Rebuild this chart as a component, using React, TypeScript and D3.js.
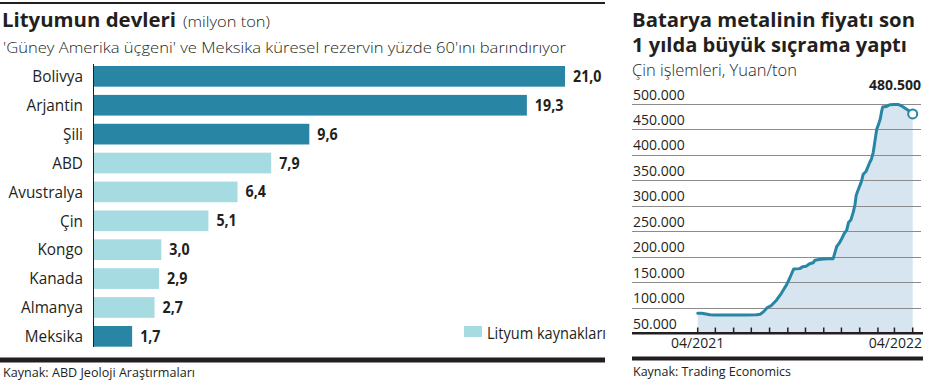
import React from "react";
import * as d3 from "d3";

const countries = ["Bolivya", "Arjantin", "Şili", "ABD", "Avustralya", "Çin", "Kongo", "Kanada", "Almanya", "Meksika"];
const reserves = [21.0, 19.3, 9.6, 7.9, 6.4, 5.1, 3.0, 2.9, 2.7, 1.7];
const triangle = [true, true, true, false, false, false, false, false, false, true];

const priceDates = [
  "2021-04-01", "2021-04-08", "2021-04-15", "2021-04-22", "2021-04-29", "2021-05-15", "2021-06-01", "2021-06-20",
  "2021-07-10", "2021-07-16", "2021-07-22", "2021-07-27", "2021-08-04", "2021-08-13", "2021-08-21", "2021-08-30",
  "2021-09-05", "2021-09-11", "2021-09-21", "2021-09-26", "2021-10-02", "2021-10-08", "2021-10-14", "2021-10-17",
  "2021-10-24", "2021-10-31", "2021-11-09", "2021-11-17", "2021-11-20", "2021-11-23", "2021-11-27", "2021-12-01",
  "2021-12-06", "2021-12-10", "2021-12-13", "2021-12-17", "2021-12-21", "2021-12-24", "2021-12-26", "2021-12-29",
  "2022-01-04", "2022-01-07", "2022-01-12", "2022-01-18", "2022-01-21", "2022-01-24", "2022-01-27", "2022-01-30",
  "2022-02-02", "2022-02-05", "2022-02-07", "2022-02-09", "2022-02-15", "2022-02-21", "2022-02-28", "2022-03-08",
  "2022-03-12", "2022-03-16", "2022-03-21", "2022-03-25", "2022-03-29", "2022-04-01",
];
const priceValues = [
  88900, 89000, 87500, 86000, 85500, 85500, 85500, 85600,
  85800, 87000, 92000, 98800, 104000, 115000, 128000, 145000,
  160000, 176000, 176500, 180000, 181000, 186000, 188000, 193000,
  194500, 195600, 195800, 196000, 208000, 220000, 226000, 234000,
  246000, 252000, 267000, 272000, 287000, 302000, 320000, 330000,
  348000, 362000, 368000, 385000, 392000, 405000, 428000, 451000,
  460000, 471000, 484000, 494000, 495000, 498600, 499000, 499000,
  497000, 494000, 490000, 487000, 482000, 480500,
];
const yTicks = [50000, 100000, 150000, 200000, 250000, 300000, 350000, 400000, 450000, 500000];
const lastLabel = "480.500";

const DARK = "#2886a4";
const LIGHT = "#a6dce1";
const TEXT = "#231f20";
const FONT = "'Open Sans', 'Noto Sans', sans-serif";

const fmtThousands = (v: number) => d3.format(",")(v).replace(/,/g, ".");
const fmtDec = (v: number) => v.toFixed(1).replace(".", ",");

export default function App() {
  // Left bar chart scales
  const x = d3.scaleLinear().domain([0, 21]).range([94, 565]);
  const y = d3.scaleBand<string>().domain(countries).range([61.9, 350.8]).paddingInner(0.284).paddingOuter(0.142);

  // Right line chart scales
  const parse = d3.timeParse("%Y-%m-%d");
  const dates = priceDates.map((d) => parse(d) as Date);
  const t0 = parse("2021-04-01") as Date;
  const t1 = parse("2022-04-01") as Date;
  const xt = d3.scaleTime().domain([t0, t1]).range([697.7, 912.7]);
  const yv = d3.scaleLinear().domain([50000, 500000]).range([333, 104]);
  const pts = dates.map((d, i) => [d, priceValues[i]] as [Date, number]);
  const line = d3.line<[Date, number]>().x((d) => xt(d[0])).y((d) => yv(d[1]));
  const area = d3.area<[Date, number]>().x((d) => xt(d[0])).y0(yv(50000)).y1((d) => yv(d[1]));
  const months = d3.timeMonth.range(t0, d3.timeDay.offset(t1, 1));
  const last = pts[pts.length - 1];

  return (
    <svg width={927} height={380} style={{ position: "absolute", left: 0, top: 0, background: "#fff" }} fontFamily={FONT}>
      {/* Left panel */}
      <rect x={0} y={2} width={605} height={2} fill={TEXT} />
      <text x={2} y={27} fontSize={20} fontWeight={700} fill={TEXT} textLength={174} lengthAdjust="spacingAndGlyphs">
        Lityumun devleri
      </text>
      <text x={183} y={27} fontSize={15} fontWeight={300} fill={TEXT} textLength={87} lengthAdjust="spacingAndGlyphs">
        (milyon ton)
      </text>
      <text x={3} y={53} fontSize={15} fontWeight={300} fill={TEXT} textLength={563} lengthAdjust="spacingAndGlyphs">
        'Güney Amerika üçgeni' ve Meksika küresel rezervin yüzde 60'ını barındırıyor
      </text>

      {countries.map((c, i) => {
        const yy = y(c) as number;
        const bw = y.bandwidth();
        return (
          <g key={c}>
            <rect x={x(0)} y={yy} width={x(reserves[i]) - x(0)} height={bw} fill={triangle[i] ? DARK : LIGHT} />
            <text
              transform={`translate(83,${yy + bw / 2 + 5.8}) scale(0.93,1)`}
              fontSize={16.5}
              textAnchor="end"
              fill={TEXT}
            >
              {c}
            </text>
            <text
              transform={`translate(${x(reserves[i]) + 8},${yy + bw / 2 + 5.5}) scale(0.92,1)`}
              fontSize={15.5}
              fontWeight={700}
              fill={TEXT}
            >
              {fmtDec(reserves[i])}
            </text>
          </g>
        );
      })}
      <line x1={93.5} x2={93.5} y1={64} y2={347} stroke={TEXT} strokeWidth={1} />

      <rect x={464} y={326} width={18} height={11} fill={LIGHT} />
      <text x={487} y={338.5} fontSize={15.5} fill={TEXT} textLength={119} lengthAdjust="spacingAndGlyphs">
        Lityum kaynakları
      </text>

      <rect x={0} y={357.5} width={605} height={5} fill={TEXT} />
      <text x={3} y={376.5} fontSize={13.5} fill={TEXT} textLength={192} lengthAdjust="spacingAndGlyphs">
        Kaynak: ABD Jeoloji Araştırmaları
      </text>

      {/* Right panel */}
      <text x={632} y={26.5} fontSize={20} fontWeight={700} fill={TEXT} textLength={283} lengthAdjust="spacingAndGlyphs">
        Batarya metalinin fiyatı son
      </text>
      <text x={632} y={51.5} fontSize={20} fontWeight={700} fill={TEXT} textLength={275} lengthAdjust="spacingAndGlyphs">
        1 yılda büyük sıçrama yaptı
      </text>
      <text x={632} y={76} fontSize={15.5} fontWeight={300} fill={TEXT} textLength={165} lengthAdjust="spacingAndGlyphs">
        Çin işlemleri, Yuan/ton
      </text>

      <path d={area(pts) as string} fill="#d6e5ef" />
      {yTicks.map((v) =>
        v === 50000 ? null : (
          <line key={"g" + v} x1={632} x2={921} y1={Math.round(yv(v)) + 0.5} y2={Math.round(yv(v)) + 0.5} stroke="#8c8c8c" strokeWidth={1} />
        )
      )}
      {yTicks.map((v) => (
        <text key={"l" + v} x={633} y={yv(v) - 4.5} fontSize={14} fill={TEXT}>
          {fmtThousands(v)}
        </text>
      ))}
      <path d={line(pts) as string} fill="none" stroke={DARK} strokeWidth={3} strokeLinejoin="round" strokeLinecap="round" />
      <circle cx={xt(last[0])} cy={yv(last[1])} r={4.5} fill="#fff" stroke={DARK} strokeWidth={2} />
      <text x={921} y={90} fontSize={14} fontWeight={700} textAnchor="end" fill={TEXT}>
        {lastLabel}
      </text>

      <rect x={632} y={332} width={291} height={2.5} fill={TEXT} />
      {months.map((m, i) => (
        <line key={"t" + i} x1={xt(m)} x2={xt(m)} y1={333} y2={327.5} stroke={TEXT} strokeWidth={1.5} />
      ))}
      <text x={xt(t0)} y={348} fontSize={14} textAnchor="middle" fill={TEXT}>
        04/2021
      </text>
      <text x={922} y={348} fontSize={14} textAnchor="end" fill={TEXT}>
        04/2022
      </text>

      <rect x={632} y={356.5} width={291} height={4} fill={TEXT} />
      <text x={633} y={376} fontSize={13.5} fill={TEXT} textLength={158} lengthAdjust="spacingAndGlyphs">
        Kaynak: Trading Economics
      </text>
    </svg>
  );
}
